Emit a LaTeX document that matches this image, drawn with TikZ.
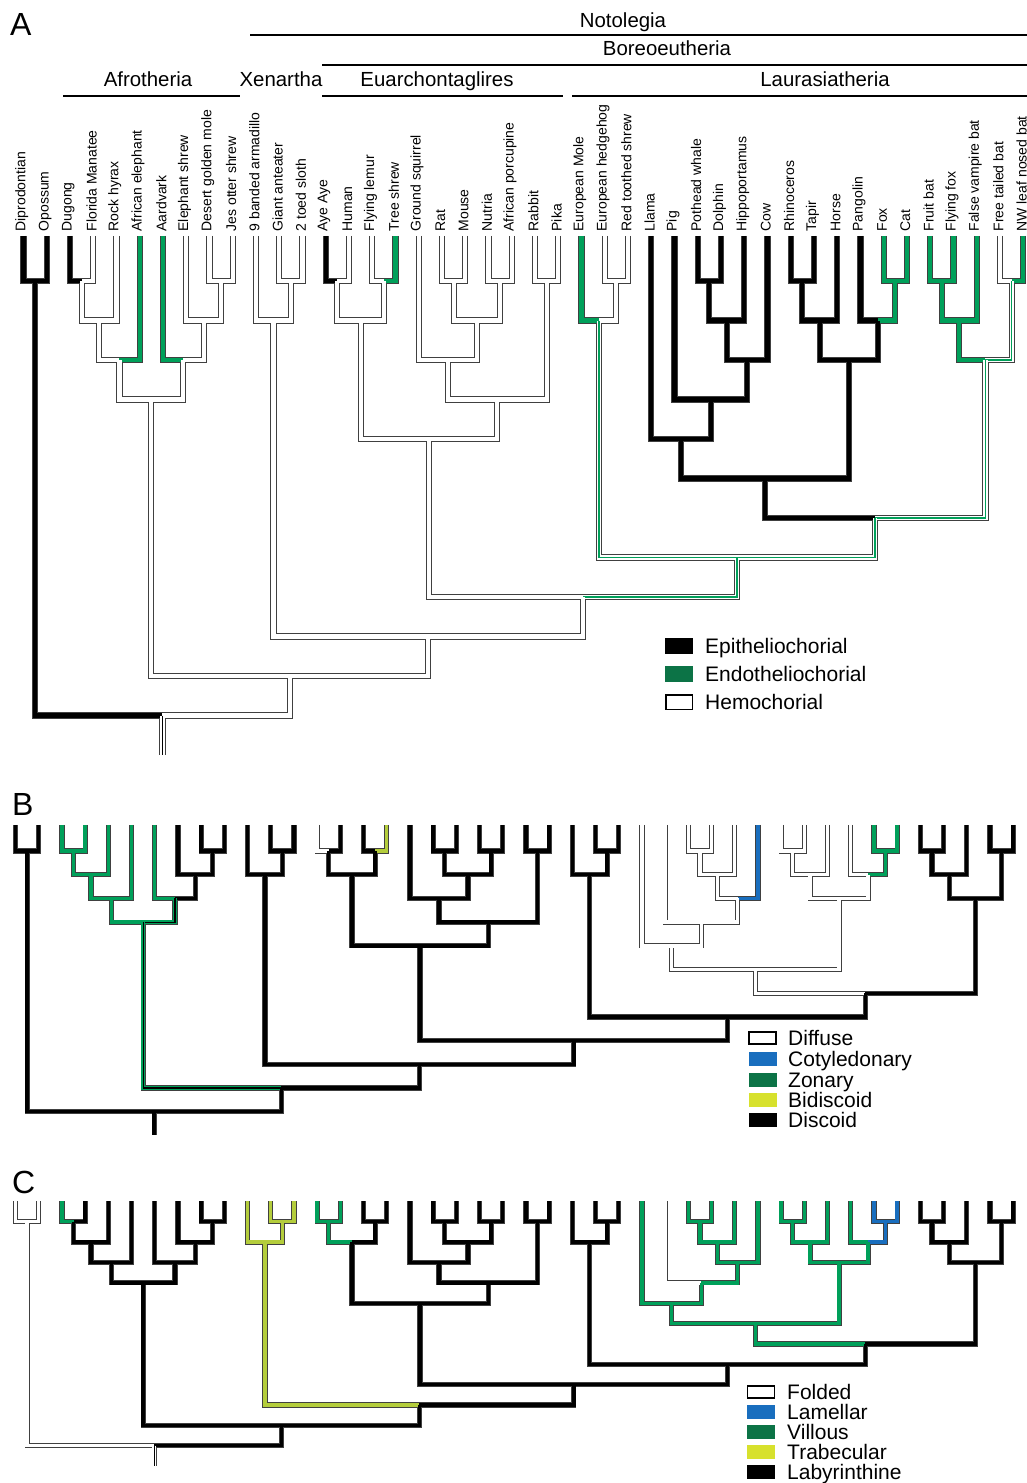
\documentclass[tikz,border=0pt]{standalone}
\usepackage{fontspec}
\setmainfont{Liberation Sans}
\definecolor{grn}{RGB}{0,160,90}
\definecolor{grnkey}{RGB}{12,115,70}
\definecolor{blu}{RGB}{25,110,190}
\definecolor{ylw}{RGB}{180,205,60}
\definecolor{ylwkey}{RGB}{215,225,45}
\tikzset{
  outer/.style={draw=black!75, line width=6.2pt},
  inner/.style={line width=4.2pt},
  stripe/.style={line width=1.5pt},
  cb/.style={inner, draw=black},
  cw/.style={inner, draw=white},
  cg/.style={inner, draw=grn},
  cu/.style={inner, draw=blu},
  cy/.style={inner, draw=ylw},
  cgw/.style={inner, draw=white, postaction={stripe, draw=grn}},
  cgb/.style={inner, draw=grn, postaction={stripe, draw=black}},
  cwb/.style={inner, draw=white, postaction={stripe, draw=black}},
  taxon/.style={rotate=90, anchor=west, inner sep=0pt, font=\fontsize{14pt}{16pt}\selectfont},
  clade/.style={anchor=base, inner sep=0pt, font=\fontsize{20.4pt}{24pt}\selectfont},
  bar/.style={line width=1.5pt},
  panel/.style={anchor=base west, inner sep=0pt, font=\fontsize{32pt}{36pt}\selectfont},
  keybox/.style={minimum width=28pt, minimum height=14pt, inner sep=0pt},
  keytext/.style={anchor=base west, inner sep=0pt, font=\fontsize{21pt}{24pt}\selectfont},
}
% leaves and internal nodes: x in leaf steps, y in levels
\newcommand{\treecoords}[2]{%
  \foreach \n [count=\i from 0] in {dip,opo,dug,man,hyr,ele,aar,esh,gmo,osh,arm,ant,slo,aye,hum,fle,tsh,gsq,rat,mou,nut,por,rab,pik,mol,hed,rts,lla,pig,wha,dol,hip,cow,rhi,tap,hor,pan,fox,cat,fba,ffo,fvb,ftb,nwb}
    \coordinate (#1\n) at (\i,#2);
  \foreach \n/\x/\lv in {mar/0.5/1, dm/2.5/1, dmh/3.25/2, pae/4.125/3, go/8.5/1, esg/7.75/2,
      afi/6.875/3, afr/5.5/4, xas/11.5/1, xen/10.75/2, aah/13.5/1, fts/15.5/1, eua/14.5/2,
      rm/18.5/1, np/20.5/1, rmnp/19.5/2, rod/18.25/3, lag/22.5/1, gli/20.375/4, eag/17.4375/5,
      hr/25.5/1, eul/24.75/2, wd/29.5/1, wdh/30.25/2, whc/31.125/3, pwc/29.5625/4, cet/28.28125/5,
      rt/33.5/1, per/34.25/2, fc/37.5/1, car/36.75/2, fer/35.5/3, scr/31.890625/6,
      bff/39.5/1, pte/40.25/2, ftn/42.5/1, chi/41.375/3, sb/36.6328/7, lau/30.6914/8,
      bor/24.0645/9, xb/17.4072/10, pla/11.4536/11, root/5.9768/12, base/5.9768/13}
    \coordinate (#1\n) at (\x,\lv);
}
% outlines first, then the fills
\newcommand{\treeedges}[2]{%
  \foreach \ch/\pa/\kk in #2 \draw[outer] (#1\ch) |- (#1\pa);
  \foreach \ch/\pa/\kk in #2 \draw[\kk] (#1\ch) |- (#1\pa);
}
\def\edgesA{dip/mar/cb, opo/mar/cb, mar/root/cb,
  dug/dm/cb, man/dm/cw, dm/dmh/cw, hyr/dmh/cw, dmh/pae/cw, ele/pae/cg, pae/afr/cw,
  gmo/go/cw, osh/go/cw, esh/esg/cw, go/esg/cw, aar/afi/cg, esg/afi/cw, afi/afr/cw, afr/pla/cw,
  ant/xas/cw, slo/xas/cw, arm/xen/cw, xas/xen/cw, xen/xb/cw,
  aye/aah/cb, hum/aah/cw, fle/fts/cw, tsh/fts/cg, aah/eua/cw, fts/eua/cw, eua/eag/cw,
  rat/rm/cw, mou/rm/cw, nut/np/cw, por/np/cw, rm/rmnp/cw, np/rmnp/cw, gsq/rod/cw, rmnp/rod/cw,
  rab/lag/cw, pik/lag/cw, rod/gli/cw, lag/gli/cw, gli/eag/cw, eag/bor/cw,
  hed/hr/cw, rts/hr/cw, mol/eul/cg, hr/eul/cw, eul/lau/cgw,
  wha/wd/cb, dol/wd/cb, wd/wdh/cb, hip/wdh/cb, wdh/whc/cb, cow/whc/cb, pig/pwc/cb, whc/pwc/cb,
  lla/cet/cb, pwc/cet/cb, cet/scr/cb,
  rhi/rt/cb, tap/rt/cb, rt/per/cb, hor/per/cb, fox/fc/cg, cat/fc/cg, pan/car/cb, fc/car/cg,
  per/fer/cb, car/fer/cb, fer/scr/cb, scr/sb/cb,
  fba/bff/cg, ffo/bff/cg, bff/pte/cg, fvb/pte/cg, ftb/ftn/cw, nwb/ftn/cg, pte/chi/cg, ftn/chi/cgw,
  chi/sb/cgw, sb/lau/cgw, lau/bor/cgw, bor/xb/cw, xb/pla/cw, pla/root/cw, root/base/cwb}
\def\edgesB{dip/mar/cb, opo/mar/cb, mar/root/cb,
  dug/dm/cg, man/dm/cg, dm/dmh/cg, hyr/dmh/cg, dmh/pae/cg, ele/pae/cg, pae/afr/cg,
  gmo/go/cb, osh/go/cb, esh/esg/cb, go/esg/cb, aar/afi/cg, esg/afi/cb, afi/afr/cgb, afr/pla/cgb,
  ant/xas/cb, slo/xas/cb, arm/xen/cb, xas/xen/cb, xen/xb/cb,
  aye/aah/cw, hum/aah/cb, fle/fts/cb, tsh/fts/cy, aah/eua/cb, fts/eua/cb, eua/eag/cb,
  rat/rm/cb, mou/rm/cb, nut/np/cb, por/np/cb, rm/rmnp/cb, np/rmnp/cb, gsq/rod/cb, rmnp/rod/cb,
  rab/lag/cb, pik/lag/cb, rod/gli/cb, lag/gli/cb, gli/eag/cb, eag/bor/cb,
  hed/hr/cb, rts/hr/cb, mol/eul/cb, hr/eul/cb, eul/lau/cb,
  wha/wd/cw, dol/wd/cw, wd/wdh/cw, hip/wdh/cw, wdh/whc/cw, cow/whc/cu, pig/pwc/cw, whc/pwc/cw,
  lla/cet/cw, pwc/cet/cw, cet/scr/cw,
  rhi/rt/cw, tap/rt/cw, rt/per/cw, hor/per/cw, fox/fc/cg, cat/fc/cg, pan/car/cw, fc/car/cg,
  per/fer/cw, car/fer/cw, fer/scr/cw, scr/sb/cw,
  fba/bff/cb, ffo/bff/cb, bff/pte/cb, fvb/pte/cb, ftb/ftn/cb, nwb/ftn/cb, pte/chi/cb, ftn/chi/cb,
  chi/sb/cb, sb/lau/cb, lau/bor/cb, bor/xb/cb, xb/pla/cb, pla/root/cb, root/base/cb}
\def\edgesC{dip/mar/cw, opo/mar/cw, mar/root/cw,
  dug/dm/cg, man/dm/cb, dm/dmh/cb, hyr/dmh/cb, dmh/pae/cb, ele/pae/cb, pae/afr/cb,
  gmo/go/cb, osh/go/cb, esh/esg/cb, go/esg/cb, aar/afi/cb, esg/afi/cb, afi/afr/cb, afr/pla/cb,
  ant/xas/cy, slo/xas/cy, arm/xen/cy, xas/xen/cy, xen/xb/cy,
  aye/aah/cg, hum/aah/cg, fle/fts/cb, tsh/fts/cb, aah/eua/cg, fts/eua/cb, eua/eag/cb,
  rat/rm/cb, mou/rm/cb, nut/np/cb, por/np/cb, rm/rmnp/cb, np/rmnp/cb, gsq/rod/cb, rmnp/rod/cb,
  rab/lag/cb, pik/lag/cb, rod/gli/cb, lag/gli/cb, gli/eag/cb, eag/bor/cb,
  hed/hr/cb, rts/hr/cb, mol/eul/cb, hr/eul/cb, eul/lau/cb,
  wha/wd/cg, dol/wd/cg, wd/wdh/cg, hip/wdh/cg, wdh/whc/cg, cow/whc/cg, pig/pwc/cw, whc/pwc/cg,
  lla/cet/cg, pwc/cet/cg, cet/scr/cg,
  rhi/rt/cg, tap/rt/cg, rt/per/cg, hor/per/cg, fox/fc/cu, cat/fc/cu, pan/car/cg, fc/car/cu,
  per/fer/cg, car/fer/cg, fer/scr/cg, scr/sb/cg,
  fba/bff/cb, ffo/bff/cb, bff/pte/cb, fvb/pte/cb, ftb/ftn/cb, nwb/ftn/cb, pte/chi/cb, ftn/chi/cb,
  chi/sb/cb, sb/lau/cb, lau/bor/cb, bor/xb/cb, xb/pla/cb, pla/root/cb, root/base/cwb}
\begin{document}
\begin{tikzpicture}[x=1pt, y=-1pt]
\useasboundingbox (0,0) rectangle (1027,1483);

% ---- A: placenta interface
\node[panel] (labA) at (10,35) {A};
\node[clade] (noto) at (623,27.3) {Notolegia};
\draw[bar] (250,35) -- (1027,35);
\node[clade] (boreo) at (667,55.3) {Boreoeutheria};
\draw[bar] (322,65) -- (1027,65);
\node[clade] (afro) at (148,86.3) {Afrotheria};
\draw[bar] (63,96) -- (240,96);
\node[clade] (xena) at (281,86.3) {Xenartha};
\node[clade] (euar) at (437,86.3) {Euarchontaglires};
\draw[bar] (322,96) -- (563,96);
\node[clade] (laur) at (825,86.3) {Laurasiatheria};
\draw[bar] (572,96) -- (1027,96);
\begin{scope}[xshift=23.5pt, yshift=-241.5pt, x=23.25pt, y=-39.5pt]
  \treecoords{a}{-0.14}
  \treeedges{a}{\edgesA}
  \foreach \t [count=\i from 0] in {Diprodontian, Opossum, Dugong, Florida Manatee, Rock hyrax,
      African elephant, Aardvark, Elephant shrew, Desert golden mole, Jes otter shrew,
      9 banded armadillo, Giant anteater, 2 toed sloth, Aye Aye, Human, Flying lemur, Tree shrew,
      Ground squirrel, Rat, Mouse, Nutria, African porcupine, Rabbit, Pika, European Mole,
      European hedgehog, Red toothed shrew, Llama, Pig, Pothead whale, Dolphin, Hippoportamus,
      Cow, Rhinoceros, Tapir, Horse, Pangolin, Fox, Cat, Fruit bat, Flying fox, False vampire bat,
      Free tailed bat, NW leaf nosed bat}
    \node[taxon] (tx\i) at ({\i-0.07},-0.25) {\t};
\end{scope}
\node[keybox, minimum height=16pt, fill=black] (kepi) at (679,646) {};
\node[keytext] (tepi) at (705,653.5) {Epitheliochorial};
\node[keybox, minimum height=16pt, fill=grnkey] (kend) at (679,674) {};
\node[keytext] (tend) at (705,681.5) {Endotheliochorial};
\node[keybox, minimum width=26.5pt, minimum height=14.5pt, draw=black, line width=1.5pt, fill=white] (khem) at (679,702) {};
\node[keytext] (them) at (705,709.5) {Hemochorial};

% ---- B: gross shape
\node[panel] (labB) at (12,815) {B};
\begin{scope}[xshift=15.5pt, yshift=-827.3pt, x=23.2pt, y=-23.7pt,
    outer/.append style={line width=5.2pt}, inner/.append style={line width=3.4pt},
    stripe/.append style={line width=1.2pt}]
  \treecoords{b}{-0.1}
  \treeedges{b}{\edgesB}
\end{scope}
\node[keybox, minimum width=27pt, minimum height=12pt, draw=black, line width=1.5pt, fill=white] (kdif) at (762.5,1038) {};
\node[keytext] (tdif) at (788,1045.5) {Diffuse};
\node[keybox, fill=blu] (kcot) at (762.5,1059) {};
\node[keytext] (tcot) at (788,1066.5) {Cotyledonary};
\node[keybox, fill=grnkey] (kzon) at (762.5,1079.5) {};
\node[keytext] (tzon) at (788,1087) {Zonary};
\node[keybox, fill=ylwkey] (kbid) at (762.5,1100) {};
\node[keytext] (tbid) at (788,1107.5) {Bidiscoid};
\node[keybox, fill=black] (kdis) at (762.5,1120) {};
\node[keytext] (tdis) at (788,1127.5) {Discoid};

% ---- C: interdigitation
\node[panel] (labC) at (12,1193) {C};
\begin{scope}[xshift=15.5pt, yshift=-1201.4pt, x=23.2pt, y=-20.36pt,
    outer/.append style={line width=5.2pt}, inner/.append style={line width=3.4pt},
    stripe/.append style={line width=1.2pt}]
  \treecoords{c}{0}
  \treeedges{c}{\edgesC}
\end{scope}
\node[keybox, minimum width=27pt, minimum height=12pt, draw=black, line width=1.5pt, fill=white] (kfol) at (761,1392) {};
\node[keytext] (tfol) at (787,1399.5) {Folded};
\node[keybox, fill=blu] (klam) at (761,1412) {};
\node[keytext] (tlam) at (787,1419.5) {Lamellar};
\node[keybox, fill=grnkey] (kvil) at (761,1432) {};
\node[keytext] (tvil) at (787,1439.5) {Villous};
\node[keybox, fill=ylwkey] (ktra) at (761,1452) {};
\node[keytext] (ttra) at (787,1459.5) {Trabecular};
\node[keybox, fill=black] (klab) at (761,1472) {};
\node[keytext] (tlab) at (787,1479.5) {Labyrinthine};
\end{tikzpicture}
\end{document}
